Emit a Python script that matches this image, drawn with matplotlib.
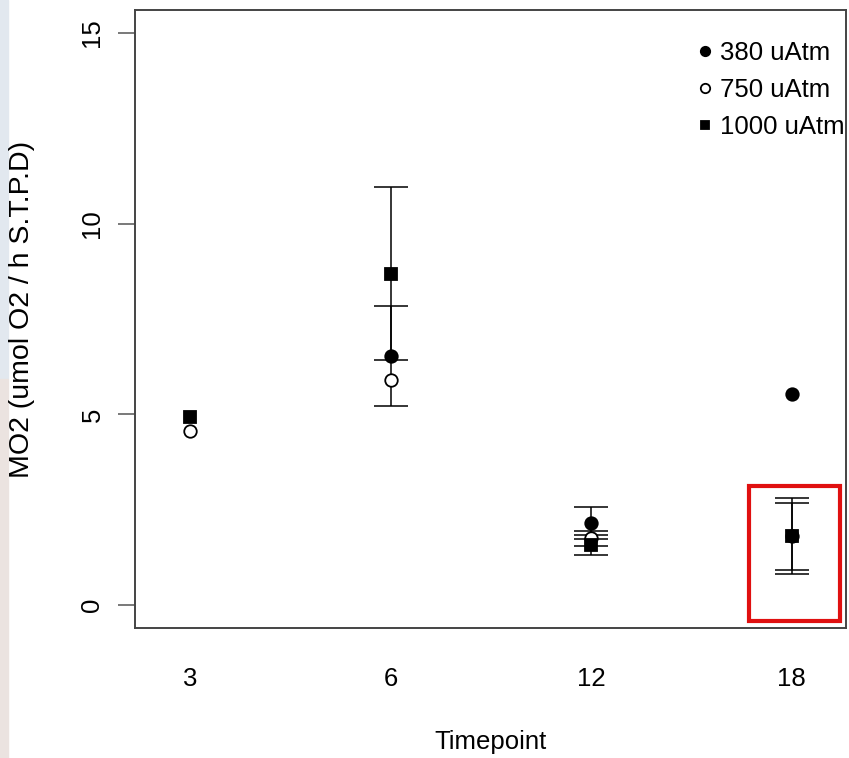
import numpy as np
import matplotlib.pyplot as plt
from matplotlib.patches import Rectangle

plt.rcParams['font.family'] = ['Liberation Sans', 'DejaVu Sans']

# Data
timepoints = ['3', '6', '12', '18']
mo2_380 = [np.nan, 6.54, 2.16, 5.52]
err_380 = [0, 1.31, 0.42, 0]
mo2_750 = [4.57, 5.91, 1.75, 1.80]
err_750 = [0, 0, 0.19, 0.87]
mo2_1000 = [4.93, 8.69, 1.58, 1.82]
err_1000 = [0, 2.26, 0.26, 1.00]

x = np.arange(1, len(timepoints) + 1)

fig = plt.figure(figsize=(8.49, 7.58), dpi=100)
ax = fig.add_axes([0.159, 0.1715, 0.8375, 0.8155])

# thin screenshot strip on the left edge
fig.patches.append(Rectangle((0, 0.5), 0.009, 0.5, transform=fig.transFigure,
                             color='#e2e8ef', zorder=-1))
fig.patches.append(Rectangle((0, 0), 0.009, 0.5, transform=fig.transFigure,
                             color='#ebe3e0', zorder=-1))

ebkw = dict(ls='none', ecolor='black', elinewidth=1.1, capsize=12, capthick=1.1)

def draw(vals, errs, marker, mfc, ms, label):
    v = np.array(vals, dtype=float)
    e = np.array(errs, dtype=float)
    has = e > 0
    ax.errorbar(x[has], v[has], yerr=e[has], fmt='none', zorder=2, **ebkw)
    ax.plot(x, v, ls='none', marker=marker, mfc=mfc, mec='black', mew=1.3,
            ms=ms, label=label, zorder=3)

draw(mo2_380, err_380, 'o', 'black', 9, '380 uAtm')
draw(mo2_750, err_750, 'o', 'white', 9, '750 uAtm')
draw(mo2_1000, err_1000, 's', 'black', 8.5, '1000 uAtm')

ax.set_xlim(0.725, 4.27)
ax.set_ylim(-0.6, 15.6)
ax.set_xticks(x)
ax.set_xticklabels(timepoints)
ax.set_yticks([0, 5, 10, 15])
ax.tick_params(axis='x', length=0, pad=28, labelsize=18.5)
ax.tick_params(axis='y', length=12, width=1.1, color='#555555', pad=10, labelsize=18.5)
for lab in ax.get_yticklabels():
    lab.set_rotation(90)
    lab.set_va('center')

for sp in ax.spines.values():
    sp.set_color('#444444')
    sp.set_linewidth(1.4)

ax.set_xlabel('Timepoint', fontsize=18.5, va='top')
ax.xaxis.set_label_coords(0.5, -0.165)
ax.set_ylabel('MO2 (umol O2 / h S.T.P.D)', fontsize=20.5)
ax.yaxis.set_label_coords(-0.141, 0.515)

leg = ax.legend(loc='upper left', bbox_to_anchor=(0.776, 0.97), frameon=False,
                fontsize=18.5, markerscale=0.75, handlelength=0.4,
                handletextpad=0.38, labelspacing=0.5, borderpad=0)

# red highlight box around the 18 h group
ax.add_patch(Rectangle((3.785, -0.42), 0.455, 3.55, fill=False,
                       edgecolor='#e01010', linewidth=3, zorder=4))

fig.savefig('out.png', dpi=100)
